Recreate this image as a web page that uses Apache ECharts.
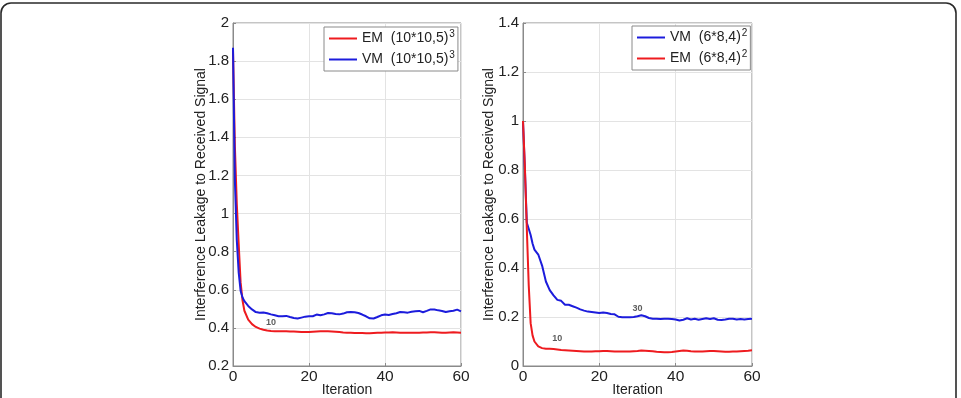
<!DOCTYPE html>
<html>
<head>
<meta charset="utf-8">
<script src="https://cdn.jsdelivr.net/npm/echarts@6/dist/echarts.min.js"></script>
<style>
html,body{margin:0;padding:0;background:#fff;}
#c{width:961px;height:398px;}
</style>
</head>
<body>
<div id="c"></div>
<script>
// Iteration positions (x values) shared by all series
var iterations = [0,0.5,1,1.5,2,2.5,3,4,5,6,7,8,9,10,11,12,13,14,15,16,17,18,19,20,21,22,23,24,25,26,27,28,29,30,31,32,33,34,35,36,37,38,39,40,41,42,43,44,45,46,47,48,49,50,51,52,53,54,55,56,57,58,59,60];

// Left plot: (10*10,5)^3
var leftEM = [1.86,1.35,1.05,0.84,0.64,0.545,0.49,0.443,0.42,0.405,0.396,0.39,0.386,0.384,0.383,0.383,0.382,0.382,0.381,0.381,0.38,0.379,0.378,0.379,0.38,0.381,0.382,0.383,0.382,0.381,0.38,0.378,0.376,0.375,0.374,0.373,0.373,0.373,0.372,0.372,0.373,0.374,0.375,0.376,0.376,0.377,0.376,0.375,0.375,0.374,0.374,0.375,0.375,0.376,0.376,0.377,0.377,0.376,0.375,0.375,0.376,0.377,0.376,0.375];
var leftVM = [1.87,1.17,0.86,0.69,0.595,0.56,0.54,0.515,0.497,0.483,0.48,0.481,0.477,0.471,0.466,0.461,0.461,0.463,0.457,0.452,0.449,0.454,0.459,0.461,0.461,0.47,0.466,0.471,0.478,0.477,0.473,0.471,0.475,0.482,0.483,0.482,0.478,0.47,0.461,0.45,0.449,0.457,0.466,0.47,0.468,0.473,0.477,0.483,0.482,0.48,0.485,0.487,0.489,0.482,0.489,0.497,0.496,0.492,0.489,0.483,0.487,0.49,0.496,0.487];

// Right plot: (6*8,4)^2
var rightVM = [1.0,0.8,0.585,0.56,0.535,0.5,0.475,0.455,0.41,0.345,0.31,0.288,0.27,0.266,0.25,0.25,0.244,0.238,0.231,0.226,0.222,0.22,0.218,0.216,0.218,0.216,0.212,0.211,0.201,0.199,0.199,0.199,0.2,0.203,0.207,0.203,0.196,0.193,0.193,0.192,0.193,0.193,0.192,0.19,0.186,0.189,0.195,0.19,0.193,0.189,0.192,0.195,0.192,0.195,0.189,0.188,0.19,0.193,0.193,0.19,0.192,0.19,0.192,0.193];
var rightEM = [1.0,0.81,0.56,0.33,0.175,0.125,0.1,0.08,0.073,0.07,0.07,0.069,0.067,0.065,0.064,0.063,0.062,0.061,0.06,0.059,0.059,0.059,0.06,0.06,0.061,0.061,0.06,0.059,0.059,0.059,0.059,0.059,0.06,0.061,0.063,0.062,0.061,0.06,0.058,0.057,0.056,0.056,0.057,0.059,0.061,0.063,0.062,0.06,0.059,0.059,0.059,0.06,0.061,0.061,0.06,0.059,0.058,0.058,0.059,0.059,0.06,0.061,0.062,0.064];

// Series labels (base text + superscript exponent)
var leftNames = ['EM  (10*10,5)', 'VM  (10*10,5)'];
var leftExp = '3';
var rightNames = ['VM  (6*8,4)', 'EM  (6*8,4)'];
var rightExp = '2';

// Axis ticks
var xTicks = [0, 20, 40, 60];
var leftYTicks = [0.2,0.4,0.6,0.8,1,1.2,1.4,1.6,1.8,2];
var rightYTicks = [0,0.2,0.4,0.6,0.8,1,1.2,1.4];

// In-plot annotations
var leftNotes = [[10, 0.43, '10']];
var rightNotes = [[30, 0.236, '30'], [9, 0.113, '10']];

var RED = '#ee1b1f';
var BLUE = '#1c1cdc';
var FONT = '"Liberation Sans", Arial, sans-serif';

function pairs(xs, ys){ return xs.map(function(x,i){ return [x, ys[i]]; }); }
function fmt(v){ return String(+(+v).toFixed(2)); }

function xAxisCfg(idx){
  return {
    type:'value', gridIndex: idx, min: xTicks[0], max: xTicks[xTicks.length-1], interval: 20,
    name:'Iteration', nameLocation:'middle', nameGap: 17, nameMoveOverlap:false,
    nameTextStyle:{fontFamily:FONT, fontSize:14, color:'#222'},
    axisLine:{show:true, lineStyle:{color:'#8a8a8a', width:1}},
    axisTick:{show:true, inside:true, length:3, lineStyle:{color:'#8a8a8a'}},
    axisLabel:{fontFamily:FONT, fontSize:15.5, color:'#222', margin:3, formatter: fmt},
    splitLine:{show:true, lineStyle:{color:'#e3e3e3', width:1}}
  };
}
function yAxisCfg(idx, ticks, gap){
  return {
    type:'value', gridIndex: idx, min: ticks[0], max: ticks[ticks.length-1], interval: 0.2,
    name:'Interference Leakage to Received Signal', nameLocation:'middle', nameGap: gap, nameMoveOverlap:false,
    nameTextStyle:{fontFamily:FONT, fontSize:14, color:'#222'},
    axisLine:{show:true, lineStyle:{color:'#8a8a8a', width:1}},
    axisTick:{show:true, inside:true, length:3, lineStyle:{color:'#8a8a8a'}},
    axisLabel:{fontFamily:FONT, fontSize:15, color:'#222', margin:4, formatter: fmt},
    splitLine:{show:true, lineStyle:{color:'#e3e3e3', width:1}}
  };
}
function lineSeries(name, data, color, idx){
  return {
    type:'line', name:name, xAxisIndex: idx, yAxisIndex: idx,
    data: pairs(iterations, data), showSymbol:false, symbol:'none',
    lineStyle:{color:color, width:2}, itemStyle:{color:color}, z: 3
  };
}
function noteSeries(notes, idx){
  return {
    type:'scatter', xAxisIndex: idx, yAxisIndex: idx, symbolSize: 0, z: 5,
    data: notes.map(function(n){ return {value:[n[0], n[1]], label:{formatter: n[2]}}; }),
    label:{show:true, position:'inside', fontFamily:FONT, fontSize:9, fontWeight:'bold', color:'#333'},
    silent:true
  };
}
function legendCfg(names, exp, left, top){
  return {
    data: names, orient:'vertical', left:left, top:top,
    backgroundColor:'#fff', borderColor:'#8a8a8a', borderWidth:1, borderRadius:0,
    padding:[2, 3, 2, 5], itemGap: 2, itemWidth: 28, itemHeight: 2, icon:'rect',
    formatter: function(n){ return '{b|' + n + '}{sup|' + exp + '}'; },
    textStyle:{fontFamily:FONT, fontSize:14, color:'#222', lineHeight:18,
      rich:{ b:{fontFamily:FONT, fontSize:14, color:'#222', lineHeight:18},
             sup:{fontFamily:FONT, fontSize:10, color:'#222', lineHeight:18, padding:[0,0,9,1]} }},
    selectedMode:false
  };
}

var chart = echarts.init(document.getElementById('c'), null, {renderer:'canvas'});
chart.setOption({
  animation:false,
  backgroundColor:'#fff',
  graphic:[
    {type:'rect', shape:{x:1, y:3, width:955, height:430, r:10}, style:{fill:'none', stroke:'#2a2a2a', lineWidth:1.6}, z:-10}
  ],
  grid:[
    {left:233, top:23, width:228, height:343, containLabel:false, outerBoundsMode:'none', show:true, borderColor:'#8a8a8a', borderWidth:1, backgroundColor:'#fff'},
    {left:523, top:23, width:229, height:343, containLabel:false, outerBoundsMode:'none', show:true, borderColor:'#8a8a8a', borderWidth:1, backgroundColor:'#fff'}
  ],
  xAxis:[xAxisCfg(0), xAxisCfg(1)],
  yAxis:[yAxisCfg(0, leftYTicks, 25), yAxisCfg(1, rightYTicks, 27)],
  legend:[legendCfg(leftNames, leftExp, 324, 27), legendCfg(rightNames, rightExp, 632, 26)],
  series:[
    lineSeries(leftNames[0], leftEM, RED, 0),
    lineSeries(leftNames[1], leftVM, BLUE, 0),
    lineSeries(rightNames[0], rightVM, BLUE, 1),
    lineSeries(rightNames[1], rightEM, RED, 1),
    noteSeries(leftNotes, 0),
    noteSeries(rightNotes, 1)
  ]
});
</script>
</body>
</html>
